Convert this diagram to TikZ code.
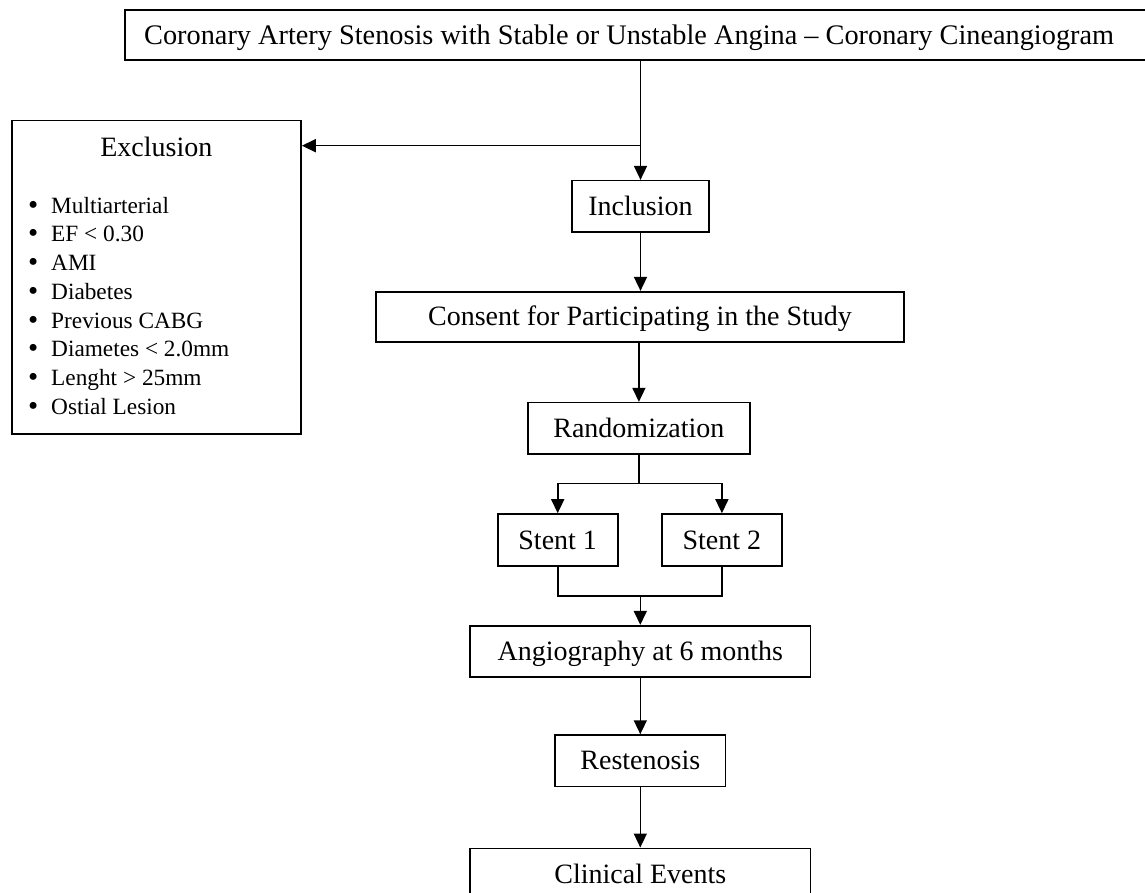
\documentclass[tikz,border=0pt]{standalone}
\usepackage{fontspec}
\setmainfont{Liberation Serif}
\usetikzlibrary{arrows.meta,positioning}
\begin{document}
\begin{tikzpicture}[x=1pt,y=-1pt,
  box/.style={draw,line width=1.6pt,inner sep=0pt,text height=18.5pt,text depth=0pt,
    font=\fontsize{28}{33}\selectfont},
  conn/.style={line width=1.6pt},
  arr/.style={line width=1.6pt,-{Triangle[length=14pt,width=13pt]}},
  item/.style={anchor=base west,inner sep=0pt,font=\fontsize{23.3}{28}\selectfont},
  bul/.style={anchor=base,inner sep=0pt,font=\fontsize{29}{33}\selectfont}]
\useasboundingbox (0,0) rectangle (1145,893);
% boxes
\node[draw,line width=1.6pt,inner sep=0pt,minimum width=1025pt,minimum height=50pt] (title) at (637.5,35) {};
\node[anchor=base west,inner sep=0pt,font=\fontsize{28.3}{33}\selectfont] (titlet) at (144,44.5)
  {Coronary Artery Stenosis with Stable or Unstable Angina -- Coronary Cineangiogram};
\node[box,minimum width=137pt,minimum height=51.3pt] (incl) at (640.5,206.35) {Inclusion};
\node[box,minimum width=528pt,minimum height=50pt] (consent) at (640,316.7) {Consent for Participating in the Study};
\node[box,minimum width=221.7pt,minimum height=51.3pt] (random) at (638.9,428.3) {Randomization};
\node[box,minimum width=120pt,minimum height=52pt] (stent1) at (557.7,540) {Stent 1};
\node[box,minimum width=119.7pt,minimum height=52pt] (stent2) at (721.9,540) {Stent 2};
\node[box,minimum width=340.7pt,minimum height=51pt] (angio) at (640.3,651.2) {Angiography at 6 months};
\node[box,minimum width=170.7pt,minimum height=51.3pt] (resten) at (640.3,760.7) {Restenosis};
\node[box,minimum width=340.7pt,minimum height=51pt] (clin) at (640.3,873.8) {Clinical Events};
% exclusion box
\node[draw,line width=1.6pt,inner sep=0pt,minimum width=289.3pt,minimum height=313.3pt] (excl) at (156.35,277.35) {};
\node[anchor=base,inner sep=0pt,font=\fontsize{28}{33}\selectfont] (exclt) at (156.3,156.7) {Exclusion};
\foreach \t [count=\i from 0] in {Multiarterial,EF < 0.30,AMI,Diabetes,Previous CABG,Diametes < 2.0mm,Lenght > 25mm,Ostial Lesion}{
  \node[bul] (b\i) at (33.3,214.3+28.7*\i) {\textbullet};
  \node[item] (e\i) at (51,213.3+28.7*\i) {\t};
}
% connectors
\coordinate (junc) at (640.5,145.7);
\draw[arr] (title.south -| incl.north) -- (incl.north);
\draw[arr] (junc) -- (excl.east |- junc);
\draw[arr] (incl.south) -- (consent.north -| incl.south);
\draw[arr] (consent.south -| random.north) -- (random.north);
\coordinate (split) at (638.9,483.3);
\draw[conn] (random.south) -- (split);
\draw[arr] (split) -| (stent1.north);
\draw[arr] (split) -| (stent2.north);
\coordinate (merge) at (640.3,595.7);
\draw[conn] (stent1.south) |- (merge);
\draw[conn] (stent2.south) |- (merge);
\draw[arr] (merge) -- (angio.north);
\draw[arr] (angio.south) -- (resten.north);
\draw[arr] (resten.south) -- (clin.north);
\end{tikzpicture}
\end{document}
